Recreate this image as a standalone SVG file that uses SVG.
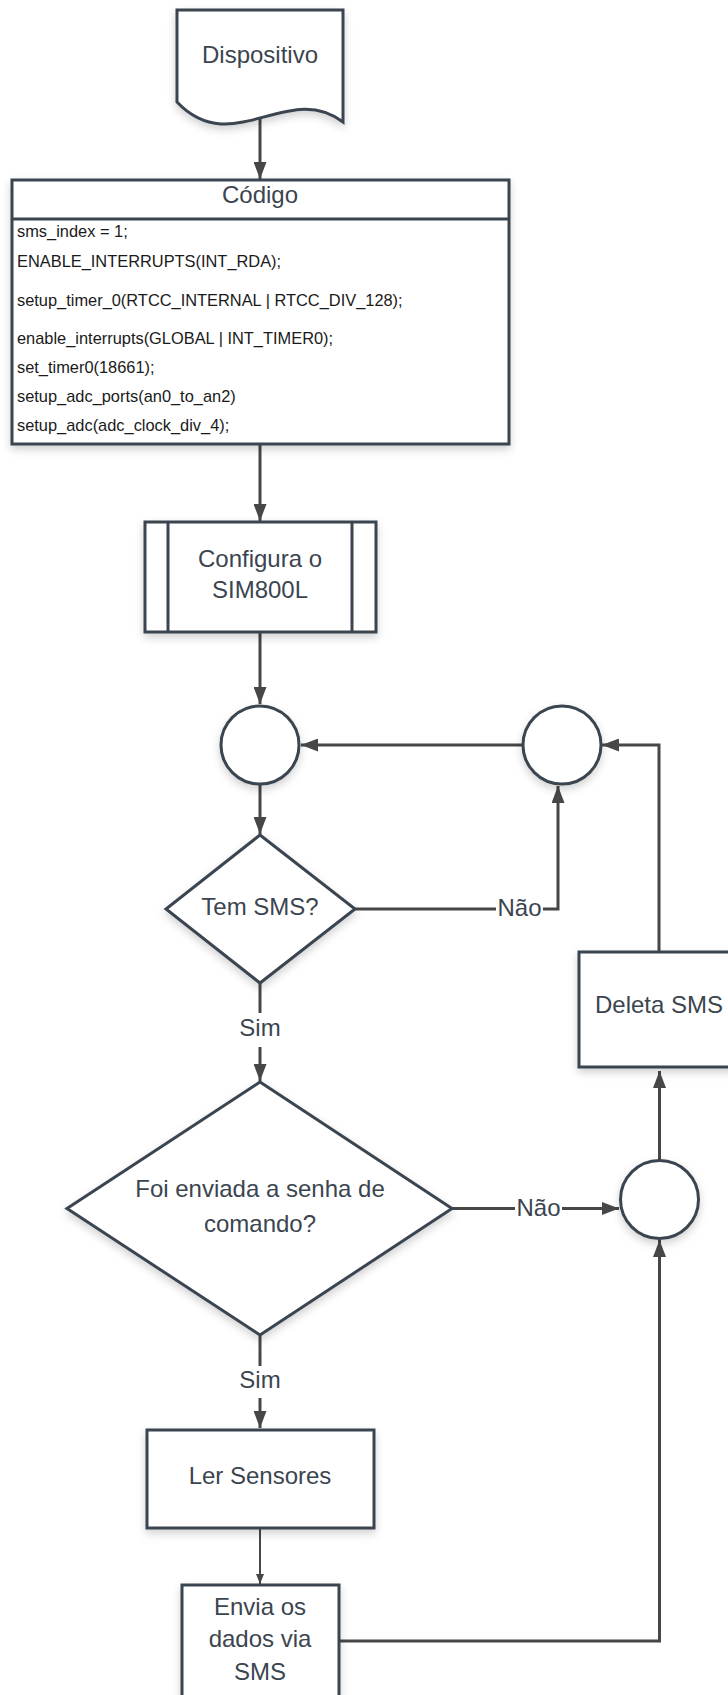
<svg xmlns="http://www.w3.org/2000/svg" width="728" height="1695" viewBox="0 0 728 1695">
<style>
.node{fill:#ffffff;stroke:#3b4550;stroke-width:3;filter:url(#sh)}
.inner{fill:none;stroke:#3b4550;stroke-width:3}
.t{font-family:"Liberation Sans",Arial,Helvetica,sans-serif;font-size:24px;fill:#3b4550;text-anchor:middle}
.code{font-family:"Liberation Sans",Arial,Helvetica,sans-serif;font-size:16.4px;fill:#1a1a1a}
.c{fill:none;stroke:#474747;stroke-width:3}
.cs{fill:none;stroke:#474747;stroke-width:2}
.lbl{font-family:"Liberation Sans",Arial,Helvetica,sans-serif;font-size:24px;fill:#3b4550;text-anchor:middle}
</style>
<defs>
<filter id="sh" x="-20%" y="-20%" width="140%" height="150%">
<feDropShadow dx="0" dy="4" stdDeviation="4" flood-color="#000" flood-opacity="0.18"/>
</filter>
<marker id="ah" markerUnits="userSpaceOnUse" markerWidth="18" markerHeight="13" refX="17" refY="6.5" orient="auto">
<path d="M0,0 L17,6.5 L0,13 z" fill="#474747"/>
</marker>
<marker id="ahs" markerUnits="userSpaceOnUse" markerWidth="11" markerHeight="9" refX="10" refY="4" orient="auto">
<path d="M0,0 L10,4 L0,8 z" fill="#474747"/>
</marker>
</defs>
<rect width="728" height="1695" fill="#ffffff"/>

<g id="connectors">
<path class="c" d="M260,112 V179" marker-end="url(#ah)"/>
<path class="c" d="M260,444 V521" marker-end="url(#ah)"/>
<path class="c" d="M260,632 V704" marker-end="url(#ah)"/>
<path class="c" d="M522,745 H301" marker-end="url(#ah)"/>
<path class="c" d="M659,951 V745 H602" marker-end="url(#ah)"/>
<path class="c" d="M260,784 V834" marker-end="url(#ah)"/>
<path class="c" d="M355,909 H496"/>
<path class="c" d="M543,909 H558 V786" marker-end="url(#ah)"/>
<path class="c" d="M260,983 V1013"/>
<path class="c" d="M260,1047 V1081" marker-end="url(#ah)"/>
<path class="c" d="M452,1208.5 H515"/>
<path class="c" d="M562,1208.5 H619" marker-end="url(#ah)"/>
<path class="c" d="M659.5,1160 V1071" marker-end="url(#ah)"/>
<path class="c" d="M260,1335 V1366"/>
<path class="c" d="M260,1398 V1428" marker-end="url(#ah)"/>
<path class="cs" d="M260,1529 V1584" marker-end="url(#ahs)"/>
<path class="c" d="M339,1641 H659.5 V1240" marker-end="url(#ah)"/>
<text class="lbl" x="519.5" y="916">Não</text>
<text class="lbl" x="538.5" y="1215.5">Não</text>
<text class="lbl" x="260" y="1036">Sim</text>
<text class="lbl" x="260" y="1388">Sim</text>
</g>

<g id="dispositivo">
<path class="node" d="M177,10 H343 V122 C288,80 232,160 177,102 Z"/>
<text class="t" x="260" y="63">Dispositivo</text>
</g>

<g id="codigo">
<rect class="node" x="12" y="180" width="497" height="264"/>
<line class="inner" x1="12" y1="219" x2="509" y2="219"/>
<text class="t" x="260" y="203">Código</text>
<text class="code" x="17" y="237">sms_index = 1;</text>
<text class="code" x="17" y="267">ENABLE_INTERRUPTS(INT_RDA);</text>
<text class="code" x="17" y="306">setup_timer_0(RTCC_INTERNAL | RTCC_DIV_128);</text>
<text class="code" x="17" y="344">enable_interrupts(GLOBAL | INT_TIMER0);</text>
<text class="code" x="17" y="373">set_timer0(18661);</text>
<text class="code" x="17" y="402">setup_adc_ports(an0_to_an2)</text>
<text class="code" x="17" y="431">setup_adc(adc_clock_div_4);</text>
</g>

<g id="configura">
<rect class="node" x="145" y="522" width="231" height="110"/>
<line class="inner" x1="168" y1="522" x2="168" y2="632"/>
<line class="inner" x1="352" y1="522" x2="352" y2="632"/>
<text class="t" x="260" y="567">Configura o</text>
<text class="t" x="260" y="598">SIM800L</text>
</g>

<g id="circulo1">
<circle class="node" cx="260" cy="745" r="39"/>
</g>

<g id="circulo2">
<circle class="node" cx="562" cy="745" r="39"/>
</g>

<g id="tem-sms">
<polygon class="node" points="260,835 355,909 260,983 166,909"/>
<text class="t" x="260" y="915">Tem SMS?</text>
</g>

<g id="deleta">
<rect class="node" x="579" y="952" width="162" height="115"/>
<text class="t" x="659" y="1013">Deleta SMS</text>
</g>

<g id="senha">
<polygon class="node" points="260,1082 452,1208.5 260,1335 67,1208.5"/>
<text class="t" x="260" y="1197">Foi enviada a senha de</text>
<text class="t" x="260" y="1232">comando?</text>
</g>

<g id="circulo3">
<circle class="node" cx="659.5" cy="1199.5" r="39"/>
</g>

<g id="ler">
<rect class="node" x="147" y="1430" width="227" height="98"/>
<text class="t" x="260" y="1484">Ler Sensores</text>
</g>

<g id="envia">
<rect class="node" x="182" y="1585" width="157" height="130"/>
<text class="t" x="260" y="1615">Envia os</text>
<text class="t" x="260" y="1647">dados via</text>
<text class="t" x="260" y="1680">SMS</text>
</g>
</svg>
